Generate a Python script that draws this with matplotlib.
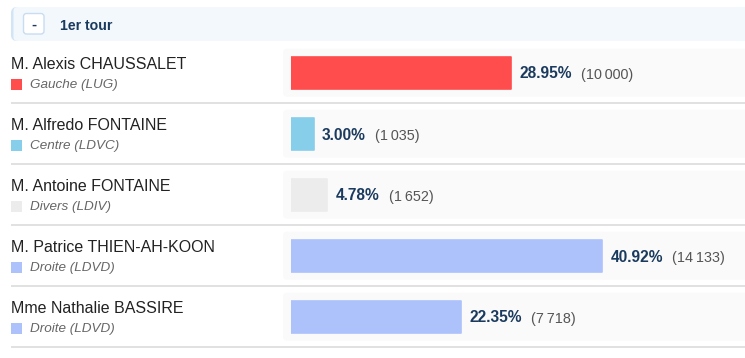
import matplotlib
matplotlib.use("Agg")
import matplotlib.pyplot as plt
from matplotlib.patches import FancyBboxPatch, Rectangle
import matplotlib.transforms as mtransforms

# ---- data ----
title = "1er tour"
names = ["M. Alexis CHAUSSALET", "M. Alfredo FONTAINE", "M. Antoine FONTAINE",
         "M. Patrice THIEN-AH-KOON", "Mme Nathalie BASSIRE"]
parties = ["Gauche (LUG)", "Centre (LDVC)", "Divers (LDIV)", "Droite (LDVD)", "Droite (LDVD)"]
party_colors = ["#ff4d4d", "#87ceeb", "#ececec", "#adc2fa", "#adc2fa"]
pcts = [28.95, 3.00, 4.78, 40.92, 22.35]
votes = ["10\u2009000", "1\u2009035", "1\u2009652", "14\u2009133", "7\u2009718"]

plt.rcParams['font.family'] = ['Liberation Sans', 'DejaVu Sans']

W, H = 745, 358
fig = plt.figure(figsize=(W / 100, H / 100), dpi=100)
fig.patch.set_facecolor("white")

# background / layout axes in pixel units
bg = fig.add_axes([0, 0, 1, 1])
bg.set_xlim(0, W)
bg.set_ylim(H, 0)
bg.axis("off")

NAVY = "#1a3a5e"
ROW0, STEP = 72.7, 61.0
BAR_X0 = 291
PX_PER_PCT = 7.6

# header
bg.add_patch(FancyBboxPatch((11, 7), 760, 34, boxstyle="round,pad=0,rounding_size=6",
                            fc="#d3e4f7", ec="none"))
bg.add_patch(FancyBboxPatch((13.5, 7), 760, 34, boxstyle="round,pad=0,rounding_size=4",
                            fc="#f3f8fd", ec="none"))
bg.add_patch(FancyBboxPatch((23.5, 13.5), 20.5, 20.5, boxstyle="round,pad=0,rounding_size=3",
                            fc="white", ec="#c9dcf1", lw=1))
bg.text(34, 24.5, "-", ha="center", va="center", fontsize=11, fontweight="bold", color=NAVY)
bg.text(60, 30, title, ha="left", va="baseline", fontsize=10.2, fontweight="bold", color=NAVY)

n = len(names)
for i in range(n):
    c = ROW0 + STEP * i
    # light row background behind bar
    bg.add_patch(FancyBboxPatch((283, c - 24), 480, 48, boxstyle="round,pad=0,rounding_size=4",
                                fc="#fafafa", ec="none"))
    # separator
    bg.plot([11, W], [c + 30.7, c + 30.7], color="#e1e1e1", lw=1.4, solid_capstyle="butt")
    # name and party
    bg.text(11, c - 3.7, names[i], ha="left", va="baseline", fontsize=11.5, color="#222222")
    bg.add_patch(Rectangle((11, c + 6.3), 11, 11, fc=party_colors[i], ec="none"))
    bg.text(30, c + 15.6, parties[i], ha="left", va="baseline", fontsize=9.7,
            style="italic", color="#666666")

# bar axes
ax = fig.add_axes([BAR_X0 / W, 0, (W - BAR_X0) / W, 1])
ax.set_xlim(0, (W - BAR_X0) / PX_PER_PCT)
ax.set_ylim((H - ROW0) / STEP, -ROW0 / STEP)
ax.axis("off")
ax.patch.set_alpha(0)

ax.barh(range(n), pcts, height=32 / STEP, left=0, color=party_colors,
        edgecolor=party_colors, linewidth=1.2, joinstyle="round")

base_tr = mtransforms.offset_copy(ax.transData, fig=fig, x=8.3, y=-5.8, units="dots")
base_y = mtransforms.offset_copy(ax.transData, fig=fig, x=0, y=-6.2, units="dots")
for i, (p, v) in enumerate(zip(pcts, votes)):
    t = ax.text(p, i, f"{p:.2f}%", transform=base_tr, ha="left", va="baseline",
                fontsize=11.2, fontweight="bold", color=NAVY, clip_on=False)
    ax.annotate(f"({v})", xy=(1, i), xycoords=(t, base_y), xytext=(9.5, 0),
                textcoords="offset pixels", ha="left", va="baseline",
                fontsize=10.4, color="#555555", annotation_clip=False)

fig.savefig("out.png", dpi=100, facecolor="white")
